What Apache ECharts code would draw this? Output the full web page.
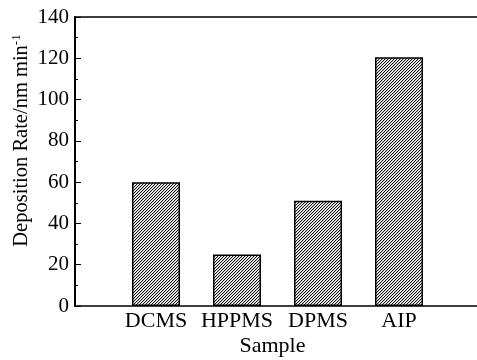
<!DOCTYPE html>
<html>
<head>
<meta charset="utf-8">
<script src="https://cdn.jsdelivr.net/npm/echarts@6/dist/echarts.min.js"></script>
<style>
  html, body { margin: 0; padding: 0; background: #fff; }
  #chart { width: 477px; height: 360px; }
</style>
</head>
<body>
<div id="chart"></div>
<script>
// samples and their deposition rates (nm/min)
var samples = ['DCMS', 'HPPMS', 'DPMS', 'AIP'];
var rates = [60, 25, 51, 120.5];
var yTicks = [0, 20, 40, 60, 80, 100, 120, 140];

// fine diagonal hatch for the bars, 3px period
function hatch() {
  var c = document.createElement('canvas');
  c.width = 3; c.height = 3;
  var ctx = c.getContext('2d');
  ctx.fillStyle = '#fff';
  ctx.fillRect(0, 0, 3, 3);
  for (var i = 0; i < 3; i++) {
    ctx.fillStyle = '#111';
    ctx.fillRect(i, 2 - i, 1, 1);
    ctx.fillStyle = '#c4c4c4';
    ctx.fillRect((i + 1) % 3, 2 - i, 1, 1);
  }
  return c;
}

var font = '"Liberation Serif", "Times New Roman", serif';
var myChart = echarts.init(document.getElementById('chart'));

var option = {
  animation: false,
  grid: {
    left: 75, top: 17, width: 405, height: 289,
    outerBoundsMode: 'none',
    containLabel: false
  },
  xAxis: [{
    type: 'value',
    min: 0, max: 5, interval: 1,
    name: 'Sample',
    nameLocation: 'middle',
    nameGap: 29,
    nameMoveOverlap: false,
    nameTextStyle: { color: '#000', fontFamily: font, fontSize: 22, padding: [0, 10, 0, 0] },
    axisLine: { show: true, lineStyle: { color: '#000', width: 1.5 } },
    axisTick: { show: true, inside: true, length: 4, lineStyle: { color: '#000' } },
    axisLabel: {
      color: '#000', fontFamily: font, fontSize: 22, margin: 4,
      formatter: function (v) { return samples[v - 1] || ''; }
    },
    splitLine: { show: false }
  }, {
    // top frame line only
    type: 'value', position: 'top',
    min: 0, max: 5,
    axisLine: { show: true, lineStyle: { color: '#000', width: 1.5 } },
    axisTick: { show: false },
    axisLabel: { show: false },
    splitLine: { show: false }
  }],
  yAxis: {
    type: 'value',
    min: yTicks[0], max: yTicks[yTicks.length - 1], interval: 20,
    name: 'Deposition Rate/nm min{sup|-1}',
    nameLocation: 'middle',
    nameRotate: 90,
    nameGap: 42,
    nameMoveOverlap: false,
    nameTextStyle: {
      color: '#000', fontFamily: font, fontSize: 20.5,
      padding: [0, 0, 0, 42],
      rich: { sup: { fontFamily: font, fontSize: 13, color: '#000', verticalAlign: 'top', padding: [0, 0, 10, 0] } }
    },
    axisLine: { show: true, lineStyle: { color: '#000', width: 2 } },
    axisTick: { show: true, inside: true, length: 6, lineStyle: { color: '#000' } },
    minorTick: { show: true, splitNumber: 2, length: 3, lineStyle: { color: '#000' } },
    axisLabel: { color: '#000', fontFamily: font, fontSize: 21, margin: 6 },
    splitLine: { show: false }
  },
  series: [{
    type: 'bar',
    barWidth: 48,
    data: rates.map(function (r, i) { return [i + 1, r]; }),
    itemStyle: {
      color: { image: hatch(), repeat: 'repeat' },
      borderColor: '#000',
      borderWidth: 1.5
    }
  }]
};

myChart.setOption(option);
</script>
</body>
</html>
